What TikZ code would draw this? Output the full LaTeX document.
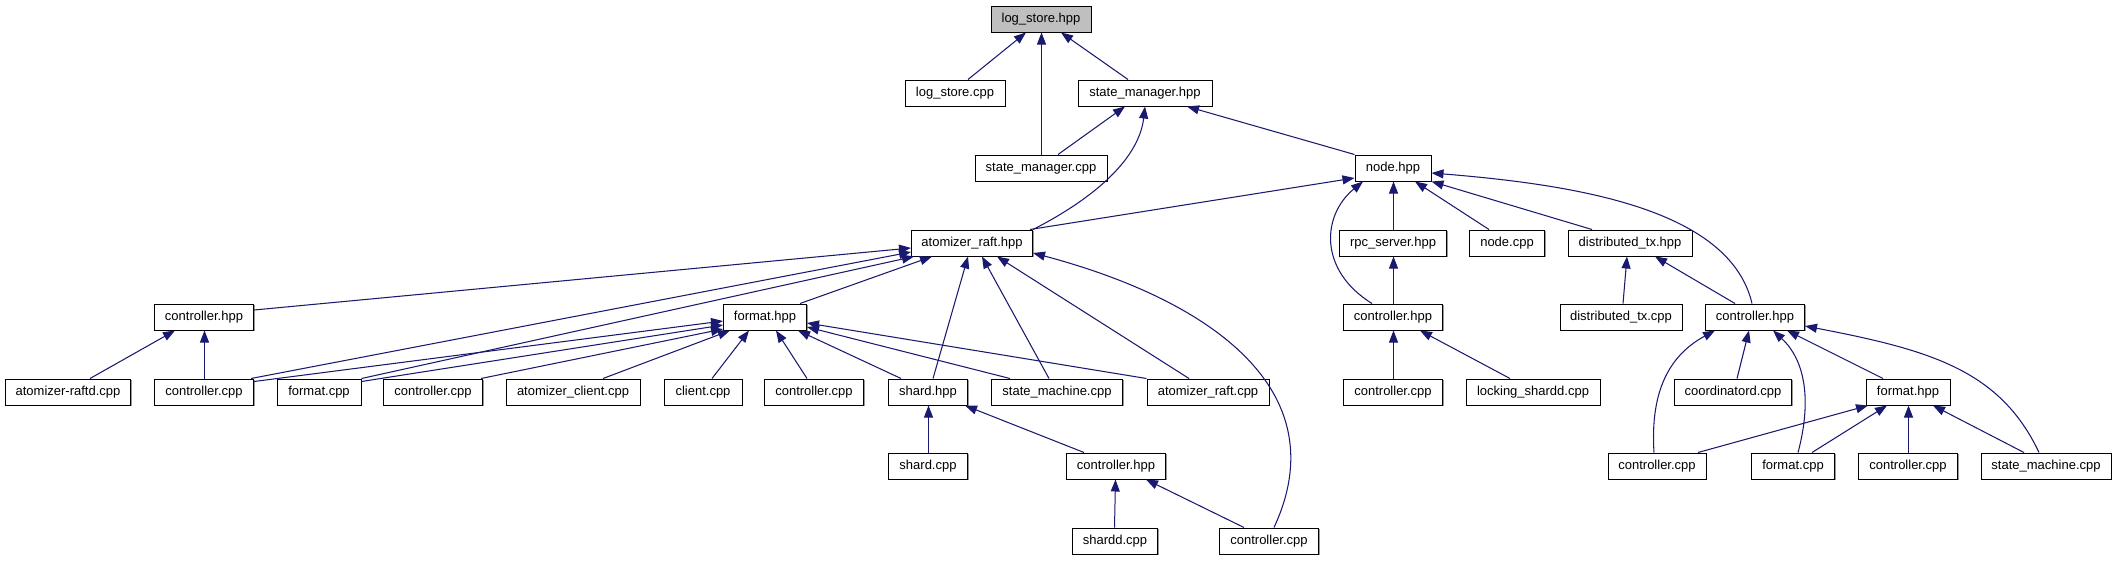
\documentclass[tikz,border=0pt]{standalone}
\usepackage{fontspec}
\setmainfont{Liberation Sans}
\usetikzlibrary{arrows.meta}
\definecolor{edgeblue}{HTML}{191970}
\tikzset{
  box/.style={draw=black, line width=1pt, fill=white, minimum height=26pt, inner sep=0pt,
    text height=9.6pt, text depth=2.8pt, font=\fontsize{13}{15}\selectfont,
    preaction={fill=black!40, transform canvas={xshift=1.3pt,yshift=-1.3pt}}},
  rootbox/.style={box, fill=black!25},
  edge/.style={draw=edgeblue, line width=1.05pt, -{Triangle[length=12pt,width=9pt]}, fill=none},
  vedge/.style={edge, line width=1pt},
}
\begin{document}
\begin{tikzpicture}[x=1pt,y=-1pt]
\useasboundingbox[fill=white] (0,0) rectangle (2117,560);
% row 1
\node[rootbox, minimum width=100pt] (lsh) at (1041,19) {log\_store.hpp};
% row 2
\node[box, minimum width=100pt] (lsc) at (955,93) {log\_store.cpp};
\node[box, minimum width=134pt] (smh) at (1145,93) {state\_manager.hpp};
% row 3
\node[box, minimum width=132pt] (smc) at (1041,168) {state\_manager.cpp};
\node[box, minimum width=76pt] (node) at (1393,168) {node.hpp};
% row 4
\node[box, minimum width=121pt] (arh) at (972,243) {atomizer\_raft.hpp};
\node[box, minimum width=107pt] (rpc) at (1393,243) {rpc\_server.hpp};
\node[box, minimum width=75pt] (nodecpp) at (1507,243) {node.cpp};
\node[box, minimum width=124pt] (dtx) at (1630,243) {distributed\_tx.hpp};
% row 5
\node[box, minimum width=99pt] (ch1) at (204,317) {controller.hpp};
\node[box, minimum width=83pt] (fh1) at (765,317) {format.hpp};
\node[box, minimum width=99pt] (ch2) at (1393,317) {controller.hpp};
\node[box, minimum width=122pt] (dtxc) at (1621,317) {distributed\_tx.cpp};
\node[box, minimum width=99pt] (ch3) at (1755,317) {controller.hpp};
% row 6
\node[box, minimum width=125pt] (ard) at (68,392) {atomizer-raftd.cpp};
\node[box, minimum width=99pt] (cc1) at (204,392) {controller.cpp};
\node[box, minimum width=84pt] (fc1) at (319,392) {format.cpp};
\node[box, minimum width=99pt] (cc2) at (433,392) {controller.cpp};
\node[box, minimum width=134pt] (acl) at (573,392) {atomizer\_client.cpp};
\node[box, minimum width=78pt] (cl) at (703,392) {client.cpp};
\node[box, minimum width=99pt] (cc3) at (814,392) {controller.cpp};
\node[box, minimum width=79pt] (sh) at (928,392) {shard.hpp};
\node[box, minimum width=131pt] (smc1) at (1057,392) {state\_machine.cpp};
\node[box, minimum width=122pt] (arc) at (1208,392) {atomizer\_raft.cpp};
\node[box, minimum width=99pt] (cc4) at (1393,392) {controller.cpp};
\node[box, minimum width=134pt] (lsd) at (1533,392) {locking\_shardd.cpp};
\node[box, minimum width=117pt] (coord) at (1733,392) {coordinatord.cpp};
\node[box, minimum width=84pt] (fh2) at (1908,392) {format.hpp};
% row 7
\node[box, minimum width=79pt] (shc) at (928,466) {shard.cpp};
\node[box, minimum width=99pt] (ch4) at (1116,466) {controller.hpp};
\node[box, minimum width=98pt] (cc5) at (1657,466) {controller.cpp};
\node[box, minimum width=83pt] (fc2) at (1793,466) {format.cpp};
\node[box, minimum width=99pt] (cc6) at (1908,466) {controller.cpp};
\node[box, minimum width=130pt] (smc2) at (2046,466) {state\_machine.cpp};
% row 8
\node[box, minimum width=85pt] (sdc) at (1115,541) {shardd.cpp};
\node[box, minimum width=99pt] (cc7) at (1269,541) {controller.cpp};

% edges to log_store.hpp
\draw[edge] ([xshift=13pt]lsc.north) -- ([xshift=-15pt]lsh.south);
\draw[vedge] ([xshift=0.5pt]smc.north) -- ([xshift=0.5pt]lsh.south);
\draw[edge] ([xshift=-17pt]smh.north) -- ([xshift=20pt]lsh.south);
% state_manager.hpp
\draw[edge] ([xshift=17pt]smc.north) -- ([xshift=-20pt]smh.south);
\draw[edge] (arh.north east) .. controls (1110,190) and (1140,150) .. (smh.south);
\draw[edge] (node.north west) -- ([xshift=42pt]smh.south);
% node.hpp
\draw[edge] ([xshift=-3pt]arh.north east) -- ([yshift=-10pt]node.west);
\draw[edge] ([xshift=-21pt]ch2.north) .. controls (1318,270) and (1322,215) .. ([xshift=-30pt]node.south);
\draw[vedge] ([xshift=0.5pt]rpc.north) -- ([xshift=0.5pt]node.south);
\draw[edge] ([xshift=-18pt]nodecpp.north) -- ([xshift=22pt]node.south);
\draw[edge] ([xshift=-38pt]dtx.north) -- (node.south east);
\draw[edge] ([xshift=-3pt]ch3.north) .. controls (1730,210) and (1580,185) .. ([yshift=-5pt]node.east);
% rpc / dtx
\draw[vedge] ([xshift=0.5pt]ch2.north) -- ([xshift=0.5pt]rpc.south);
\draw[edge] ([xshift=2pt]dtxc.north) -- ([xshift=-3pt]dtx.south);
\draw[edge] ([xshift=-20pt]ch3.north) -- ([xshift=25pt]dtx.south);
% controller.hpp (ch2)
\draw[vedge] ([xshift=0.5pt]cc4.north) -- ([xshift=0.5pt]ch2.south);
\draw[edge] ([xshift=-23pt]lsd.north) -- ([xshift=27pt]ch2.south);
% controller.hpp (ch3)
\draw[edge] ([xshift=-3pt]cc5.north) .. controls (1650,390) and (1670,355) .. ([xshift=-40pt]ch3.south);
\draw[edge] ([xshift=4pt]coord.north) -- ([xshift=-6pt]ch3.south);
\draw[edge] ([xshift=5pt]fc2.north) .. controls (1812,400) and (1805,360) .. ([xshift=18pt]ch3.south);
\draw[edge] ([xshift=-25pt]fh2.north) -- ([xshift=32pt]ch3.south);
\draw[edge] ([xshift=-7pt]smc2.north) .. controls (2000,370) and (1930,350) .. ([yshift=-9pt]ch3.east);
% format.hpp (fh2)
\draw[edge] ([xshift=41pt]cc5.north) -- ([xshift=-40pt]fh2.south);
\draw[edge] ([xshift=19pt]fc2.north) -- ([xshift=-21pt]fh2.south);
\draw[vedge] ([xshift=0.5pt]cc6.north) -- ([xshift=0.5pt]fh2.south);
\draw[edge] ([xshift=-22pt]smc2.north) -- ([xshift=25pt]fh2.south);
% atomizer_raft.hpp
\draw[edge] ([yshift=7pt]ch1.east) -- ([yshift=-5pt]arh.west);
\draw[edge] ([xshift=-3pt]cc1.north east) -- ([yshift=-9pt]arh.west);
\draw[edge] (fc1.north east) -- ([xshift=3pt]arh.south west);
\draw[edge] ([xshift=35pt]fh1.north) -- ([xshift=-40pt]arh.south);
\draw[edge] ([xshift=5pt]sh.north) -- ([xshift=-4pt]arh.south);
\draw[edge] ([xshift=-8pt]smc1.north) -- ([xshift=10pt]arh.south);
\draw[edge] ([xshift=-19pt]arc.north) -- ([xshift=25pt]arh.south);
\draw[edge] ([xshift=5pt]cc7.north) .. controls (1338,390) and (1210,300) .. ([yshift=-10pt]arh.east);
% controller.hpp (ch1)
\draw[edge] ([xshift=22pt]ard.north) -- ([xshift=-29pt]ch1.south);
\draw[vedge] ([xshift=0.5pt]cc1.north) -- ([xshift=0.5pt]ch1.south);
% format.hpp (fh1)
\draw[edge] ([yshift=-3pt]cc1.north east) -- ([yshift=-4pt]fh1.west);
\draw[edge] ([yshift=-3pt]fc1.north east) -- ([yshift=-8pt]fh1.west);
\draw[edge] ([xshift=-2pt]cc2.north east) -- ([yshift=-12pt]fh1.west);
\draw[edge] ([xshift=30pt]acl.north) -- ([xshift=7pt]fh1.south west);
\draw[edge] ([xshift=9pt]cl.north) -- ([xshift=-16pt]fh1.south);
\draw[edge] ([xshift=-7pt]cc3.north) -- ([xshift=11pt]fh1.south);
\draw[edge] ([xshift=-27pt]sh.north) -- ([xshift=-9pt]fh1.south east);
\draw[edge] ([xshift=-47pt]smc1.north) -- ([yshift=-10pt]fh1.east);
\draw[edge] (arc.north west) -- ([yshift=-6pt]fh1.east);
% shard.hpp
\draw[vedge] ([xshift=0.5pt]shc.north) -- ([xshift=0.5pt]sh.south);
\draw[edge] ([xshift=-32pt]ch4.north) -- ([xshift=-3pt]sh.south east);
% controller.hpp (ch4)
\draw[vedge] ([xshift=-0.5pt]sdc.north) -- ([xshift=-0.5pt]ch4.south);
\draw[edge] ([xshift=-25pt]cc7.north) -- ([xshift=30pt]ch4.south);
\end{tikzpicture}
\end{document}
